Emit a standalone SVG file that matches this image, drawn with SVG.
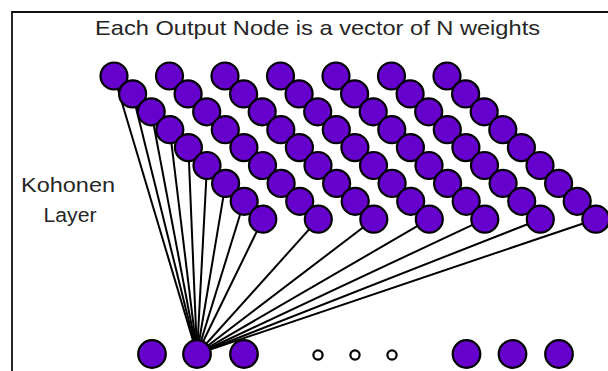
<svg xmlns="http://www.w3.org/2000/svg" width="608" height="371" viewBox="0 0 608 371">
<style>
.t{font-family:"Liberation Sans",Arial,sans-serif;fill:#262626;}
.n{fill:#6600CC;stroke:#000;stroke-width:2.2;}
.s{fill:#fff;stroke:#000;stroke-width:2.2;}
.c line{stroke:#000;stroke-width:2;}
</style>
<rect width="608" height="371" fill="#fff"/>
<path d="M12 371 V12 H608" fill="none" stroke="#111" stroke-width="1.8"/>
<text class="t" x="317.5" y="35" font-size="21" text-anchor="middle" textLength="445" lengthAdjust="spacingAndGlyphs">Each Output Node is a vector of N weights</text>
<text class="t" x="68" y="192" font-size="20" text-anchor="middle" textLength="94" lengthAdjust="spacingAndGlyphs">Kohonen</text>
<text class="t" x="70" y="222" font-size="20" text-anchor="middle" textLength="53" lengthAdjust="spacingAndGlyphs">Layer</text>
<g id="connectors" class="c">
<line x1="197" y1="354" x2="114" y2="76"/>
<line x1="197" y1="354" x2="132.6" y2="93.9"/>
<line x1="197" y1="354" x2="151.2" y2="111.8"/>
<line x1="197" y1="354" x2="169.8" y2="129.7"/>
<line x1="197" y1="354" x2="188.4" y2="147.6"/>
<line x1="197" y1="354" x2="207" y2="165.5"/>
<line x1="197" y1="354" x2="225.6" y2="183.4"/>
<line x1="197" y1="354" x2="244.2" y2="201.3"/>
<line x1="197" y1="354" x2="262.8" y2="219.2"/>
<line x1="197" y1="354" x2="318.3" y2="219.2"/>
<line x1="197" y1="354" x2="373.8" y2="219.2"/>
<line x1="197" y1="354" x2="429.3" y2="219.2"/>
<line x1="197" y1="354" x2="484.8" y2="219.2"/>
<line x1="197" y1="354" x2="540.3" y2="219.2"/>
<line x1="197" y1="354" x2="595.8" y2="219.2"/>
</g>
<g id="kohonen-layer">
<g id="k0-0"><circle class="n" cx="114" cy="76" r="13.5"/></g>
<g id="k0-1"><circle class="n" cx="132.6" cy="93.9" r="13.5"/></g>
<g id="k0-2"><circle class="n" cx="151.2" cy="111.8" r="13.5"/></g>
<g id="k0-3"><circle class="n" cx="169.8" cy="129.7" r="13.5"/></g>
<g id="k0-4"><circle class="n" cx="188.4" cy="147.6" r="13.5"/></g>
<g id="k0-5"><circle class="n" cx="207" cy="165.5" r="13.5"/></g>
<g id="k0-6"><circle class="n" cx="225.6" cy="183.4" r="13.5"/></g>
<g id="k0-7"><circle class="n" cx="244.2" cy="201.3" r="13.5"/></g>
<g id="k0-8"><circle class="n" cx="262.8" cy="219.2" r="13.5"/></g>
<g id="k1-0"><circle class="n" cx="169.5" cy="76" r="13.5"/></g>
<g id="k1-1"><circle class="n" cx="188.1" cy="93.9" r="13.5"/></g>
<g id="k1-2"><circle class="n" cx="206.7" cy="111.8" r="13.5"/></g>
<g id="k1-3"><circle class="n" cx="225.3" cy="129.7" r="13.5"/></g>
<g id="k1-4"><circle class="n" cx="243.9" cy="147.6" r="13.5"/></g>
<g id="k1-5"><circle class="n" cx="262.5" cy="165.5" r="13.5"/></g>
<g id="k1-6"><circle class="n" cx="281.1" cy="183.4" r="13.5"/></g>
<g id="k1-7"><circle class="n" cx="299.7" cy="201.3" r="13.5"/></g>
<g id="k1-8"><circle class="n" cx="318.3" cy="219.2" r="13.5"/></g>
<g id="k2-0"><circle class="n" cx="225" cy="76" r="13.5"/></g>
<g id="k2-1"><circle class="n" cx="243.6" cy="93.9" r="13.5"/></g>
<g id="k2-2"><circle class="n" cx="262.2" cy="111.8" r="13.5"/></g>
<g id="k2-3"><circle class="n" cx="280.8" cy="129.7" r="13.5"/></g>
<g id="k2-4"><circle class="n" cx="299.4" cy="147.6" r="13.5"/></g>
<g id="k2-5"><circle class="n" cx="318" cy="165.5" r="13.5"/></g>
<g id="k2-6"><circle class="n" cx="336.6" cy="183.4" r="13.5"/></g>
<g id="k2-7"><circle class="n" cx="355.2" cy="201.3" r="13.5"/></g>
<g id="k2-8"><circle class="n" cx="373.8" cy="219.2" r="13.5"/></g>
<g id="k3-0"><circle class="n" cx="280.5" cy="76" r="13.5"/></g>
<g id="k3-1"><circle class="n" cx="299.1" cy="93.9" r="13.5"/></g>
<g id="k3-2"><circle class="n" cx="317.7" cy="111.8" r="13.5"/></g>
<g id="k3-3"><circle class="n" cx="336.3" cy="129.7" r="13.5"/></g>
<g id="k3-4"><circle class="n" cx="354.9" cy="147.6" r="13.5"/></g>
<g id="k3-5"><circle class="n" cx="373.5" cy="165.5" r="13.5"/></g>
<g id="k3-6"><circle class="n" cx="392.1" cy="183.4" r="13.5"/></g>
<g id="k3-7"><circle class="n" cx="410.7" cy="201.3" r="13.5"/></g>
<g id="k3-8"><circle class="n" cx="429.3" cy="219.2" r="13.5"/></g>
<g id="k4-0"><circle class="n" cx="336" cy="76" r="13.5"/></g>
<g id="k4-1"><circle class="n" cx="354.6" cy="93.9" r="13.5"/></g>
<g id="k4-2"><circle class="n" cx="373.2" cy="111.8" r="13.5"/></g>
<g id="k4-3"><circle class="n" cx="391.8" cy="129.7" r="13.5"/></g>
<g id="k4-4"><circle class="n" cx="410.4" cy="147.6" r="13.5"/></g>
<g id="k4-5"><circle class="n" cx="429" cy="165.5" r="13.5"/></g>
<g id="k4-6"><circle class="n" cx="447.6" cy="183.4" r="13.5"/></g>
<g id="k4-7"><circle class="n" cx="466.2" cy="201.3" r="13.5"/></g>
<g id="k4-8"><circle class="n" cx="484.8" cy="219.2" r="13.5"/></g>
<g id="k5-0"><circle class="n" cx="391.5" cy="76" r="13.5"/></g>
<g id="k5-1"><circle class="n" cx="410.1" cy="93.9" r="13.5"/></g>
<g id="k5-2"><circle class="n" cx="428.7" cy="111.8" r="13.5"/></g>
<g id="k5-3"><circle class="n" cx="447.3" cy="129.7" r="13.5"/></g>
<g id="k5-4"><circle class="n" cx="465.9" cy="147.6" r="13.5"/></g>
<g id="k5-5"><circle class="n" cx="484.5" cy="165.5" r="13.5"/></g>
<g id="k5-6"><circle class="n" cx="503.1" cy="183.4" r="13.5"/></g>
<g id="k5-7"><circle class="n" cx="521.7" cy="201.3" r="13.5"/></g>
<g id="k5-8"><circle class="n" cx="540.3" cy="219.2" r="13.5"/></g>
<g id="k6-0"><circle class="n" cx="447" cy="76" r="13.5"/></g>
<g id="k6-1"><circle class="n" cx="465.6" cy="93.9" r="13.5"/></g>
<g id="k6-2"><circle class="n" cx="484.2" cy="111.8" r="13.5"/></g>
<g id="k6-3"><circle class="n" cx="502.8" cy="129.7" r="13.5"/></g>
<g id="k6-4"><circle class="n" cx="521.4" cy="147.6" r="13.5"/></g>
<g id="k6-5"><circle class="n" cx="540" cy="165.5" r="13.5"/></g>
<g id="k6-6"><circle class="n" cx="558.6" cy="183.4" r="13.5"/></g>
<g id="k6-7"><circle class="n" cx="577.2" cy="201.3" r="13.5"/></g>
<g id="k6-8"><circle class="n" cx="595.8" cy="219.2" r="13.5"/></g>
</g>
<g id="input-layer">
<g id="in1"><circle class="n" cx="152" cy="354" r="13.8"/></g>
<g id="in2"><circle class="n" cx="197" cy="354" r="13.8"/></g>
<g id="in3"><circle class="n" cx="244" cy="354" r="13.8"/></g>
<g id="dot1"><circle class="s" cx="318" cy="355" r="4.6"/></g>
<g id="dot2"><circle class="s" cx="355" cy="355" r="4.6"/></g>
<g id="dot3"><circle class="s" cx="392" cy="355" r="4.6"/></g>
<g id="in4"><circle class="n" cx="466.5" cy="354" r="13.8"/></g>
<g id="in5"><circle class="n" cx="512.5" cy="354" r="13.8"/></g>
<g id="in6"><circle class="n" cx="559" cy="354" r="13.8"/></g>
</g>
</svg>
